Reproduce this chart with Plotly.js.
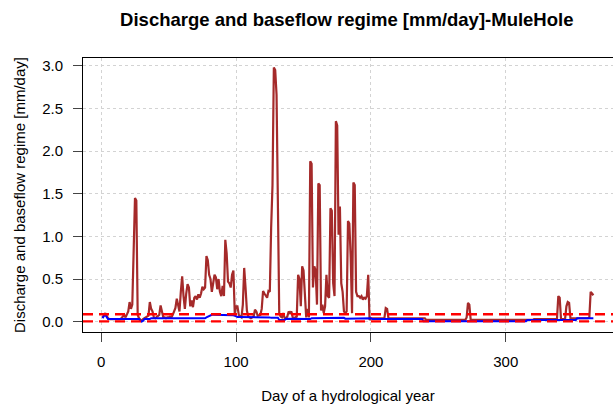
<!DOCTYPE html>
<html>
<head>
<meta charset="utf-8">
<script src="https://cdn.plot.ly/plotly-3.0.1.min.js"></script>
<style>html,body{margin:0;padding:0;background:#fff;}#chart{width:613px;height:406px;}</style>
</head>
<body>
<div id="chart"></div>
<script>
// Daily discharge [mm/day], days 1..365
const discharge = [
0.05,0.08,0.10,0.07,0.04,0.03,0.03,0.03,0.03,0.03,
0.03,0.03,0.03,0.03,0.04,0.06,0.08,0.05,0.09,0.12,
0.23,0.15,0.20,0.73,1.45,1.42,0.08,0.04,0.02,0.01,
0.03,0.04,0.04,0.05,0.07,0.23,0.15,0.12,0.05,0.04,
0.05,0.06,0.08,0.19,0.12,0.05,0.05,0.04,0.05,0.05,
0.06,0.05,0.08,0.12,0.16,0.27,0.18,0.12,0.35,0.53,
0.30,0.15,0.33,0.44,0.40,0.18,0.25,0.17,0.28,0.30,
0.26,0.32,0.28,0.33,0.41,0.38,0.40,0.77,0.72,0.55,
0.50,0.35,0.45,0.55,0.52,0.38,0.50,0.35,0.30,0.42,
0.30,0.96,0.80,0.47,0.45,0.40,0.55,0.60,0.10,0.18,
0.18,0.08,0.06,0.05,0.20,0.63,0.40,0.13,0.06,0.05,
0.04,0.05,0.06,0.14,0.12,0.07,0.08,0.08,0.15,0.36,
0.33,0.30,0.28,0.36,0.35,1.10,1.60,2.98,2.95,2.66,
1.45,0.10,0.06,0.05,0.10,0.04,0.04,0.06,0.12,0.10,
0.12,0.05,0.04,0.05,0.06,0.55,0.50,0.18,0.65,0.60,
0.36,0.05,0.15,0.05,1.88,1.85,0.40,0.65,0.60,0.20,
1.62,1.60,0.13,0.20,0.10,0.18,0.55,0.30,0.28,1.33,
1.30,0.45,0.30,2.35,2.30,1.02,1.35,0.45,0.35,0.12,
0.10,0.12,1.18,1.15,0.75,0.10,1.63,1.60,0.35,0.30,
0.30,0.28,0.30,0.26,0.28,0.27,0.30,0.55,0.02,0.04,
0.04,0.04,0.04,0.04,0.04,0.04,0.04,0.04,0.04,0.04,
0.16,0.15,0.04,0.04,0.04,0.04,0.04,0.04,0.04,0.04,
0.04,0.04,0.04,0.04,0.04,0.04,0.04,0.04,0.04,0.04,
0.04,0.04,0.04,0.04,0.04,0.04,0.04,0.04,0.04,0.04,
0.02,0.02,0.02,0.02,0.02,0.02,0.02,0.02,0.02,0.02,
0.02,0.02,0.02,0.02,0.02,0.02,0.02,0.02,0.02,0.02,
0.02,0.02,0.02,0.02,0.02,0.02,0.02,0.02,0.02,0.02,
0.05,0.22,0.20,0.02,0.02,0.02,0.02,0.02,0.02,0.02,
0.02,0.02,0.02,0.02,0.02,0.02,0.02,0.02,0.02,0.02,
0.02,0.02,0.02,0.02,0.02,0.02,0.02,0.02,0.02,0.02,
0.02,0.02,0.02,0.02,0.02,0.02,0.02,0.02,0.02,0.02,
0.02,0.02,0.02,0.02,0.02,0.02,0.02,0.02,0.02,0.02,
0.03,0.03,0.03,0.03,0.03,0.03,0.03,0.03,0.03,0.03,
0.03,0.03,0.03,0.03,0.03,0.03,0.03,0.03,0.30,0.28,
0.03,0.03,0.03,0.03,0.18,0.23,0.22,0.04,0.04,0.04,
0.04,0.04,0.04,0.04,0.04,0.04,0.04,0.04,0.04,0.04,
0.04,0.05,0.35,0.33,0.31
];

// Daily baseflow [mm/day], days 1..365
const baseflow = [
0.04,0.07,0.08,0.05,0.03,0.03,0.03,0.03,0.03,0.03,
0.03,0.03,0.03,0.03,0.03,0.03,0.03,0.03,0.03,0.03,
0.03,0.03,0.03,0.03,0.03,0.03,0.03,0.03,0.01,0.00,
0.01,0.03,0.03,0.03,0.03,0.03,0.04,0.04,0.04,0.04,
0.04,0.04,0.04,0.04,0.04,0.04,0.04,0.04,0.04,0.04,
0.04,0.04,0.04,0.04,0.04,0.04,0.04,0.04,0.04,0.04,
0.04,0.04,0.04,0.04,0.04,0.04,0.04,0.04,0.04,0.04,
0.04,0.04,0.04,0.04,0.04,0.04,0.04,0.05,0.06,0.07,
0.08,0.08,0.08,0.08,0.08,0.08,0.08,0.08,0.08,0.08,
0.08,0.08,0.08,0.08,0.08,0.08,0.08,0.075,0.07,0.06,
0.055,0.055,0.055,0.055,0.055,0.055,0.055,0.055,0.055,0.055,
0.05,0.05,0.05,0.05,0.05,0.05,0.05,0.05,0.05,0.05,
0.05,0.05,0.05,0.05,0.05,0.045,0.045,0.045,0.045,0.045,
0.045,0.02,0.02,0.02,0.02,0.02,0.035,0.035,0.035,0.035,
0.035,0.035,0.035,0.035,0.035,0.03,0.03,0.03,0.03,0.03,
0.03,0.03,0.03,0.03,0.03,0.04,0.04,0.04,0.04,0.04,
0.04,0.04,0.04,0.04,0.04,0.04,0.04,0.04,0.04,0.04,
0.045,0.045,0.045,0.045,0.045,0.045,0.045,0.045,0.045,0.045,
0.035,0.035,0.035,0.035,0.035,0.035,0.035,0.035,0.035,0.035,
0.04,0.04,0.04,0.04,0.04,0.04,0.04,0.04,0.04,0.04,
0.03,0.03,0.03,0.03,0.03,0.03,0.03,0.03,0.03,0.03,
0.03,0.03,0.03,0.03,0.03,0.03,0.03,0.03,0.03,0.03,
0.03,0.03,0.03,0.03,0.03,0.03,0.03,0.03,0.03,0.03,
0.03,0.03,0.03,0.03,0.03,0.03,0.03,0.03,0.005,0.005,
0.005,0.005,0.005,0.005,0.005,0.005,0.005,0.005,0.005,0.005,
0.005,0.005,0.005,0.005,0.005,0.005,0.005,0.005,0.005,0.005,
0.005,0.005,0.005,0.005,0.005,0.005,0.005,0.005,0.005,0.005,
0.005,0.005,0.005,0.005,0.005,0.005,0.005,0.005,0.005,0.005,
0.005,0.005,0.005,0.005,0.005,0.005,0.005,0.005,0.005,0.005,
0.005,0.005,0.005,0.005,0.005,0.005,0.005,0.005,0.005,0.005,
0.005,0.005,0.005,0.005,0.005,0.005,0.005,0.005,0.005,0.005,
0.005,0.005,0.005,0.005,0.005,0.02,0.02,0.02,0.02,0.02,
0.02,0.02,0.02,0.02,0.02,0.02,0.02,0.02,0.02,0.02,
0.02,0.02,0.02,0.02,0.02,0.02,0.02,0.02,0.02,0.02,
0.02,0.02,0.02,0.02,0.02,0.02,0.02,0.02,0.02,0.02,
0.02,0.02,0.04,0.04,0.04,0.04,0.04,0.04,0.04,0.04,
0.04,0.04,0.04,0.04,0.04
];

// Horizontal reference levels [mm/day]
const refLevels = [0.087, 0.003];

const xTicks = [0, 100, 200, 300];
const xTickLabels = ["0", "100", "200", "300"];
const yTicks = [0, 0.5, 1, 1.5, 2, 2.5, 3];
const yTickLabels = ["0.0", "0.5", "1.0", "1.5", "2.0", "2.5", "3.0"];

const days = discharge.map((_, i) => i + 1);

const FONT = "Liberation Sans, Arial, sans-serif";

const traces = [
  {x: days, y: discharge, type: "scatter", mode: "lines",
   line: {color: "#A52A2A", width: 2.2}, hoverinfo: "skip", showlegend: false},
  {x: days, y: baseflow, type: "scatter", mode: "lines",
   line: {color: "#0000FF", width: 2}, hoverinfo: "skip", showlegend: false}
];

const shapes = refLevels.map(v => ({
  type: "line", xref: "paper", x0: 0, x1: 1, yref: "y", y0: v, y1: v,
  line: {color: "#FF0000", width: 2.4, dash: "10px,6px"}, layer: "above"
}));

const layout = {
  width: 613, height: 406,
  margin: {l: 83, r: 0, t: 58, b: 74, pad: 0},
  paper_bgcolor: "#ffffff", plot_bgcolor: "#ffffff",
  font: {family: FONT, size: 15, color: "#000"},
  title: {text: "<b>Discharge and baseflow regime [mm/day]-MuleHole</b>",
          font: {family: FONT, size: 18.5, color: "#000"},
          x: 0.5657, xref: "container", xanchor: "center",
          y: 1 - 20/406, yref: "container", yanchor: "middle"},
  xaxis: {
    range: [-13.56, 379.56], tickvals: xTicks, ticktext: xTickLabels,
    ticks: "outside", ticklen: 9, tickwidth: 1, tickcolor: "#444",
    showline: true, linecolor: "#000", linewidth: 1, mirror: true,
    showgrid: true, gridcolor: "#D3D3D3", griddash: "dot", gridwidth: 1,
    zeroline: false, ticklabelstandoff: 7,
    tickfont: {family: FONT, size: 15, color: "#000"},
    title: {text: "Day of a hydrological year", font: {family: FONT, size: 15, color: "#000"}, standoff: 21}
  },
  yaxis: {
    range: [-0.121, 3.090], tickvals: yTicks, ticktext: yTickLabels,
    ticks: "outside", ticklen: 9, tickwidth: 1, tickcolor: "#444",
    showline: true, linecolor: "#000", linewidth: 1, mirror: true,
    showgrid: true, gridcolor: "#D3D3D3", griddash: "dot", gridwidth: 1,
    zeroline: false, ticklabelstandoff: 7,
    tickfont: {family: FONT, size: 15, color: "#000"},
    title: {text: "Discharge and baseflow regime [mm/day]", font: {family: FONT, size: 15, color: "#000"}, standoff: 12}
  },
  shapes: shapes,
  showlegend: false
};

Plotly.newPlot("chart", traces, layout, {displayModeBar: false, staticPlot: true});
</script>
</body>
</html>
